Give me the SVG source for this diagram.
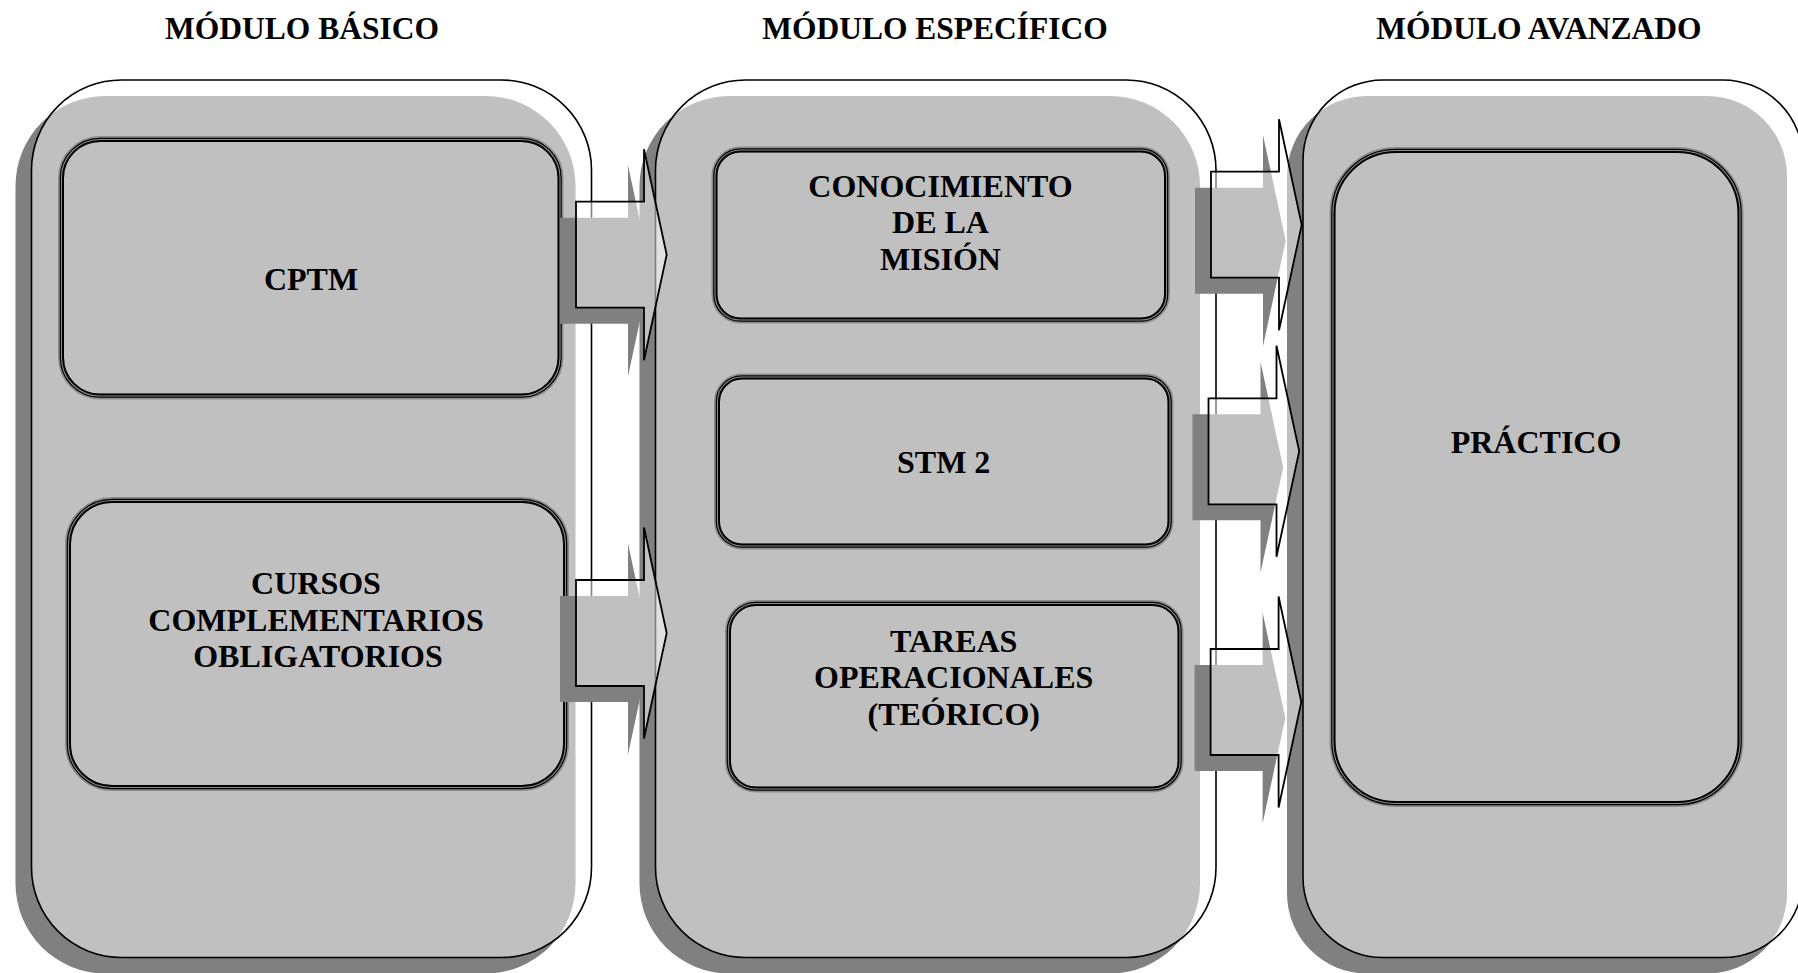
<svg xmlns="http://www.w3.org/2000/svg" width="1798" height="973" viewBox="0 0 1798 973">
<defs>
<style>
.sh{fill:#808080}
.ol{fill:#fff;fill-opacity:.5;stroke:#000;stroke-width:1.6}
.b1{fill:none;stroke:#8c8c8c;stroke-width:6}
.b2{fill:none;stroke:#000;stroke-width:1.2}
.b3{fill:none;stroke:#000;stroke-width:2}
.hd{font-family:"Liberation Serif","Times New Roman",serif;font-weight:bold;font-size:31.5px;text-anchor:middle;fill:#000}
.tx{font-family:"Liberation Serif","Times New Roman",serif;font-weight:bold;font-size:32px;text-anchor:middle;fill:#000}
.ar{fill:#fff;fill-opacity:.5;stroke:#000;stroke-width:1.8}
</style>
<path id="arrow" d="M0 0h68v-52.5L90.7 53 68 158.5V106H0Z"/>
</defs>
<rect width="1798" height="973" fill="#fff"/>

<g id="modulo-basico">
<rect class="sh" x="15.5" y="96" width="560" height="877.5" rx="90"/>
<rect class="ol" x="31.5" y="80" width="560" height="877.5" rx="90"/>
<text class="hd" x="302" y="39.3">MÓDULO BÁSICO</text>
</g>
<g id="modulo-especifico">
<rect class="sh" x="639.5" y="96" width="560.5" height="877.5" rx="90"/>
<rect class="ol" x="655.5" y="80" width="560.5" height="877.5" rx="90"/>
<text class="hd" x="935" y="39.3">MÓDULO ESPECÍFICO</text>
</g>
<g id="modulo-avanzado">
<rect class="sh" x="1287" y="96" width="500" height="877.5" rx="80"/>
<rect class="ol" x="1303" y="80" width="500" height="877.5" rx="80"/>
<text class="hd" x="1539" y="39.3">MÓDULO AVANZADO</text>
</g>

<g id="cptm">
<rect class="b1" x="61" y="139" width="499.5" height="257.5" rx="39"/>
<rect class="b2" x="60.3" y="138.3" width="500.9" height="258.9" rx="39.7"/>
<rect class="b3" x="63" y="141" width="495.5" height="253.5" rx="37"/>
<text class="tx" x="311" y="290">CPTM</text>
</g>
<g id="cursos">
<rect class="b1" x="68" y="500" width="498" height="288" rx="44"/>
<rect class="b2" x="67.3" y="499.3" width="499.4" height="289.4" rx="44.7"/>
<rect class="b3" x="70" y="502" width="494" height="284" rx="42"/>
<text class="tx" x="316" y="594">CURSOS</text>
<text class="tx" x="316" y="630.5">COMPLEMENTARIOS</text>
<text class="tx" x="318" y="667">OBLIGATORIOS</text>
</g>
<g id="conocimiento">
<rect class="b1" x="714.5" y="149.5" width="452.5" height="171" rx="26"/>
<rect class="b2" x="713.8" y="148.8" width="453.9" height="172.4" rx="26.7"/>
<rect class="b3" x="716.5" y="151.5" width="448.5" height="167" rx="24"/>
<text class="tx" x="940.5" y="196.7">CONOCIMIENTO</text>
<text class="tx" x="940.5" y="233.3">DE LA</text>
<text class="tx" x="940.5" y="270">MISIÓN</text>
</g>
<g id="stm2">
<rect class="b1" x="717" y="376.5" width="453.5" height="170" rx="25"/>
<rect class="b2" x="716.3" y="375.8" width="454.9" height="171.4" rx="25.7"/>
<rect class="b3" x="719" y="378.5" width="449.5" height="166" rx="23"/>
<text class="tx" x="943.7" y="473.3">STM 2</text>
</g>
<g id="tareas">
<rect class="b1" x="728" y="603" width="452.5" height="186.5" rx="28"/>
<rect class="b2" x="727.3" y="602.3" width="453.9" height="187.9" rx="28.7"/>
<rect class="b3" x="730" y="605" width="448.5" height="182.5" rx="26"/>
<text class="tx" x="953.7" y="651.7">TAREAS</text>
<text class="tx" x="953.7" y="688.3">OPERACIONALES</text>
<text class="tx" x="953.7" y="725">(TEÓRICO)</text>
</g>
<g id="practico">
<rect class="b1" x="1332.5" y="150" width="408" height="654" rx="63"/>
<rect class="b2" x="1331.8" y="149.3" width="409.4" height="655.4" rx="63.7"/>
<rect class="b3" x="1334.5" y="152" width="404" height="650" rx="61"/>
<text class="tx" x="1536" y="453.3">PRÁCTICO</text>
</g>

<g id="connectors">
<use href="#arrow" class="sh" x="560" y="217.7"/>
<use href="#arrow" class="ar" x="576" y="201.7"/>
<use href="#arrow" class="sh" x="560" y="596"/>
<use href="#arrow" class="ar" x="576" y="580"/>
<use href="#arrow" class="sh" x="1195" y="187.7"/>
<use href="#arrow" class="ar" x="1211" y="171.7"/>
<use href="#arrow" class="sh" x="1192.5" y="414.3"/>
<use href="#arrow" class="ar" x="1208.5" y="398.3"/>
<use href="#arrow" class="sh" x="1194.6" y="665"/>
<use href="#arrow" class="ar" x="1210.6" y="649"/>
</g>
</svg>
